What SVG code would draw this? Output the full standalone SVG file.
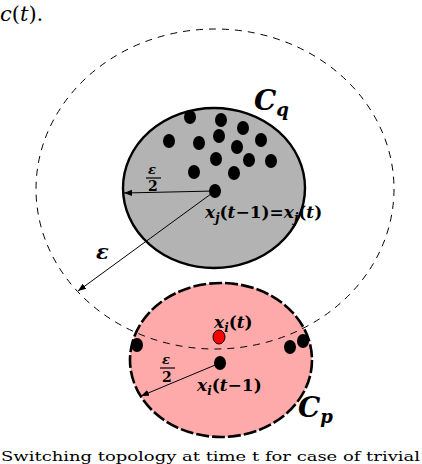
<svg xmlns="http://www.w3.org/2000/svg" width="422" height="464" viewBox="0 0 422 464">
<defs>
<style>
.m{font-family:"DejaVu Serif",serif;font-style:italic;font-weight:bold;fill:#000}
.u{font-style:normal}
.r{font-family:"DejaVu Serif",serif;fill:#000}
.dot{fill:#000}
.conn{stroke:#000;stroke-width:1;fill:none}
</style>
<marker id="ah" viewBox="0 0 10 10" refX="10" refY="5" markerWidth="8" markerHeight="8" markerUnits="userSpaceOnUse" orient="auto">
<path d="M0,1 L10,5 L0,9 Z" fill="#000"/>
</marker>
</defs>
<rect width="422" height="464" fill="#fff"/>
<text class="r" x="0" y="21" font-size="21" font-style="italic">c<tspan class="u">(</tspan>t<tspan class="u">).</tspan></text>

<g id="Cp">
<ellipse cx="221" cy="360" rx="91" ry="77" fill="#ffaaaa" stroke="#000" stroke-width="2.6" stroke-dasharray="13,3"/>
</g>
<g id="neighborhood">
<ellipse cx="215" cy="189" rx="179" ry="160" fill="none" stroke="#000" stroke-width="1" stroke-dasharray="7,6"/>
</g>
<g id="Cq">
<ellipse cx="214" cy="188" rx="91" ry="80" fill="#b3b3b3" stroke="#000" stroke-width="2.4"/>
</g>

<g id="Cq-points">
<ellipse class="dot" cx="190" cy="117" rx="6" ry="7"/>
<ellipse class="dot" cx="221" cy="120" rx="6" ry="7"/>
<ellipse class="dot" cx="243" cy="128" rx="6" ry="7"/>
<ellipse class="dot" cx="169" cy="141" rx="6" ry="7"/>
<ellipse class="dot" cx="199" cy="143" rx="6" ry="7"/>
<ellipse class="dot" cx="219" cy="136" rx="6" ry="7"/>
<ellipse class="dot" cx="237" cy="147" rx="6" ry="7"/>
<ellipse class="dot" cx="261" cy="140" rx="6" ry="7"/>
<ellipse class="dot" cx="216" cy="159" rx="6" ry="7"/>
<ellipse class="dot" cx="249" cy="160" rx="6" ry="7"/>
<ellipse class="dot" cx="271" cy="161" rx="6" ry="7"/>
<ellipse class="dot" cx="194" cy="172" rx="6" ry="7"/>
<ellipse class="dot" cx="234" cy="173" rx="6" ry="7"/>
</g>
<g id="xj">
<ellipse class="dot" cx="215" cy="191" rx="6" ry="7"/>
</g>
<g id="Cp-points">
<ellipse class="dot" cx="137" cy="345" rx="6" ry="7"/>
<ellipse class="dot" cx="290" cy="347" rx="6" ry="7"/>
<ellipse class="dot" cx="303" cy="341" rx="6" ry="7"/>
</g>
<g id="xi-t">
<ellipse cx="219" cy="337" rx="6" ry="7" fill="#ff0000" stroke="#000" stroke-width="1"/>
</g>
<g id="xi-t1">
<ellipse class="dot" cx="220" cy="363" rx="6" ry="7"/>
</g>

<g id="connectors">
<line class="conn" x1="215" y1="191" x2="124" y2="193" marker-end="url(#ah)"/>
<line class="conn" x1="215" y1="191" x2="78" y2="291" marker-end="url(#ah)"/>
<line class="conn" x1="220" y1="363" x2="141" y2="396" marker-end="url(#ah)"/>
</g>

<g id="labels">
<text class="m" x="254" y="110" font-size="28" font-weight="normal">C<tspan font-size="18" font-weight="bold" dy="6">q</tspan></text>
<text class="m" x="148" y="174" font-size="13">ε</text>
<line x1="146" y1="178" x2="161" y2="178" stroke="#000" stroke-width="1.2"/>
<text class="m u" x="148" y="191" font-size="14">2</text>
<text class="m" x="205" y="218" font-size="17">x<tspan font-size="12" dy="4">j</tspan><tspan class="u" dy="-4">(</tspan>t<tspan class="u">−1)=</tspan>x<tspan font-size="12" dy="4">j</tspan><tspan class="u" dy="-4">(</tspan>t<tspan class="u">)</tspan></text>
<text class="m" x="96" y="259" font-size="21">ε</text>
<text class="m" x="214" y="328" font-size="17">x<tspan font-size="12" dy="4">i</tspan><tspan class="u" dy="-4">(</tspan>t<tspan class="u">)</tspan></text>
<text class="m" x="162" y="364" font-size="13">ε</text>
<line x1="160" y1="368" x2="175" y2="368" stroke="#000" stroke-width="1.2"/>
<text class="m u" x="162" y="382" font-size="14">2</text>
<text class="m" x="197" y="391" font-size="17">x<tspan font-size="12" dy="4">i</tspan><tspan class="u" dy="-4">(</tspan>t<tspan class="u">−1)</tspan></text>
<text class="m" x="298" y="417" font-size="28" font-weight="normal">C<tspan font-size="18" font-weight="bold" dy="6">p</tspan></text>
</g>
<text class="r" x="1" y="461" font-size="13" textLength="419" lengthAdjust="spacingAndGlyphs">Switching topology at time t for case of trivial</text>
</svg>
